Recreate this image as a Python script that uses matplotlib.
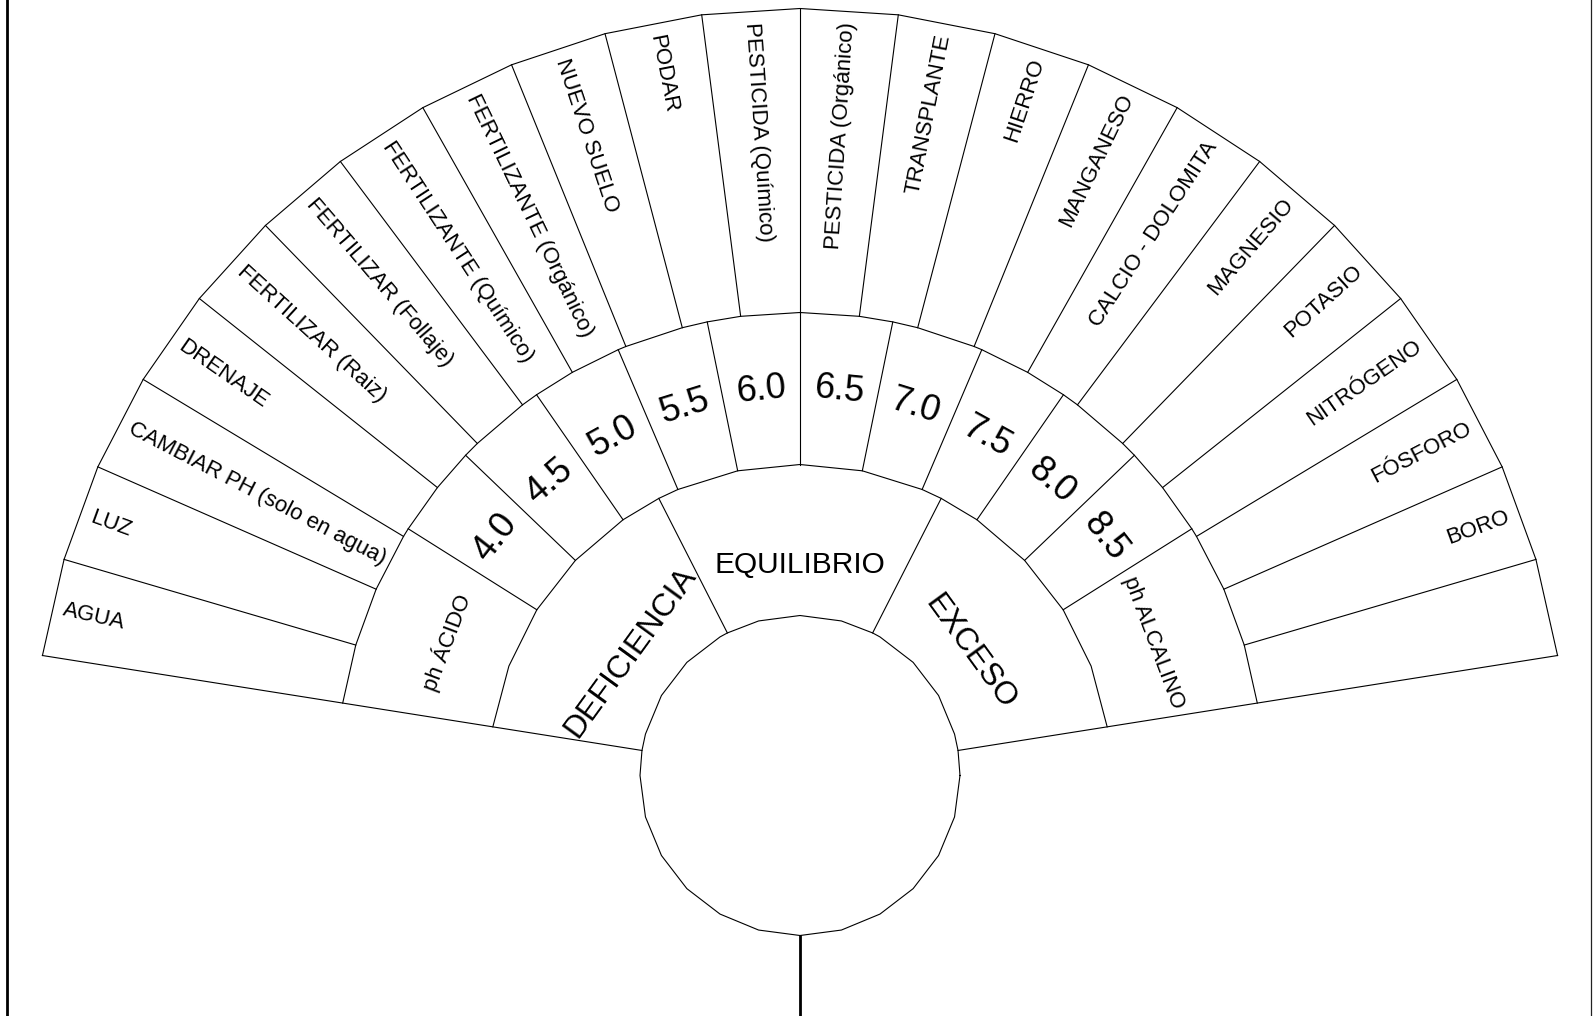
import numpy as np
import matplotlib
matplotlib.use("Agg")
import matplotlib.pyplot as plt

plt.rcParams['font.family'] = ['Liberation Sans', 'DejaVu Sans']

# ---------------- data ----------------
outer_labels = [
    "AGUA", "LUZ", "CAMBIAR PH (solo en agua)", "DRENAJE",
    "FERTILIZAR (Raiz)", "FERTILIZAR (Follaje)", "FERTILIZANTE (Químico)",
    "FERTILIZANTE (Orgánico)", "NUEVO SUELO", "PODAR", "PESTICIDA (Químico)",
    "PESTICIDA (Orgánico)", "TRANSPLANTE", "HIERRO", "MANGANESO",
    "CALCIO - DOLOMITA", "MAGNESIO", "POTASIO", "NITRÓGENO", "FÓSFORO",
    "BORO", "",
]
ph_values = ["4.0", "4.5", "5.0", "5.5", "6.0", "6.5", "7.0", "7.5", "8.0", "8.5"]
ph_side_labels = ["ph ÁCIDO", "ph ALCALINO"]
state_labels = ["DEFICIENCIA", "EQUILIBRIO", "EXCESO"]

# ---------------- layout ----------------
W, H = 1593, 1016
fig = plt.figure(figsize=(W / 100, H / 100), dpi=100)
ax = fig.add_axes([0, 0, 1, 1])
ax.set_xlim(0, W)
ax.set_ylim(H, 0)
ax.axis('off')

CX, CY = 800.0, 775.5
A_LEFT, A_RIGHT = 171.0, 9.0
R_OUT, R_MID, R_IN, R_CIRC = 767.0, 463.0, 311.0, 160.0
PH_STEP = 11.56
LW = 0.8
K = 'black'


def P(r, deg):
    t = np.radians(deg)
    return CX + r * np.cos(t), CY - r * np.sin(t)


def arc(r, angles):
    a = np.unique(np.round(np.asarray(angles, float), 4))[::-1]
    xs, ys = P(r, a)
    ax.plot(xs, ys, color=K, lw=LW, solid_joinstyle='miter')


def radial(deg, r0, r1, lw=LW):
    x0, y0 = P(r0, deg)
    x1, y1 = P(r1, deg)
    ax.plot([x0, x1], [y0, y1], color=K, lw=lw)


n_out = len(outer_labels)
outer_b = np.linspace(A_LEFT, A_RIGHT, n_out + 1)
half = len(ph_values) / 2
ph_b = np.concatenate([[A_LEFT], 90 + PH_STEP * np.arange(half, -half - 1, -1), [A_RIGHT]])
inner_b = np.linspace(A_LEFT, A_RIGHT, len(state_labels) + 1)

# arcs (faceted)
arc(R_OUT, outer_b)
arc(R_MID, np.concatenate([outer_b, ph_b]))
side_mid = [(ph_b[0] + ph_b[1]) / 2, (ph_b[-2] + ph_b[-1]) / 2]
arc(R_IN, np.concatenate([ph_b, inner_b, side_mid]))

# circle (polygon)
circ_a = np.unique(np.round(np.concatenate([90 + 15 * np.arange(24), inner_b]) % 360, 4))
circ_a = np.append(circ_a, circ_a[0])
cxs, cys = P(R_CIRC, circ_a)
ax.plot(cxs, cys, color=K, lw=LW)

# radial lines
for b in outer_b[1:-1]:
    radial(b, R_MID, R_OUT)
for b in ph_b[1:-1]:
    radial(b, R_IN, R_MID)
for b in inner_b[1:-1]:
    radial(b, R_CIRC, R_IN)
for b in (A_LEFT, A_RIGHT):
    radial(b, R_CIRC, R_OUT)

# pendulum line and borders
ax.plot([CX, CX], [CY + R_CIRC, H + 5], color=K, lw=2.0)
ax.plot([7.3, 7.3], [-5, H + 5], color=K, lw=2.0)
ax.plot([1591.2, 1591.2], [-5, H + 5], color='#222222', lw=0.9)

# ---------------- text ----------------
for i, lab in enumerate(outer_labels):
    th = (outer_b[i] + outer_b[i + 1]) / 2
    x, y = P(755, th)
    if th > 90:
        rot, ha = th - 180, 'left'
    else:
        rot, ha = th, 'right'
    ax.text(x, y, lab, rotation=rot, rotation_mode='anchor', ha=ha, va='center',
            fontsize=16, color=K)

for i, v in enumerate(ph_values):
    th = (ph_b[i + 1] + ph_b[i + 2]) / 2
    x, y = P(387, th)
    ax.text(x, y, v, rotation=th - 90, rotation_mode='anchor', ha='center',
            va='center', fontsize=26, color=K)

for lab, th in zip(ph_side_labels, side_mid):
    x, y = P(378, th)
    ax.text(x, y, lab, rotation=th - 90, rotation_mode='anchor', ha='center',
            va='center', fontsize=16, color=K)

for i, lab in enumerate(state_labels):
    th = (inner_b[i] + inner_b[i + 1]) / 2
    x, y = P(210, th)
    fs = 21.5 if i == 1 else 23
    ax.text(x, y, lab, rotation=th - 90, rotation_mode='anchor', ha='center',
            va='center', fontsize=fs, color=K)

fig.savefig("out.png", dpi=100, facecolor='white')
